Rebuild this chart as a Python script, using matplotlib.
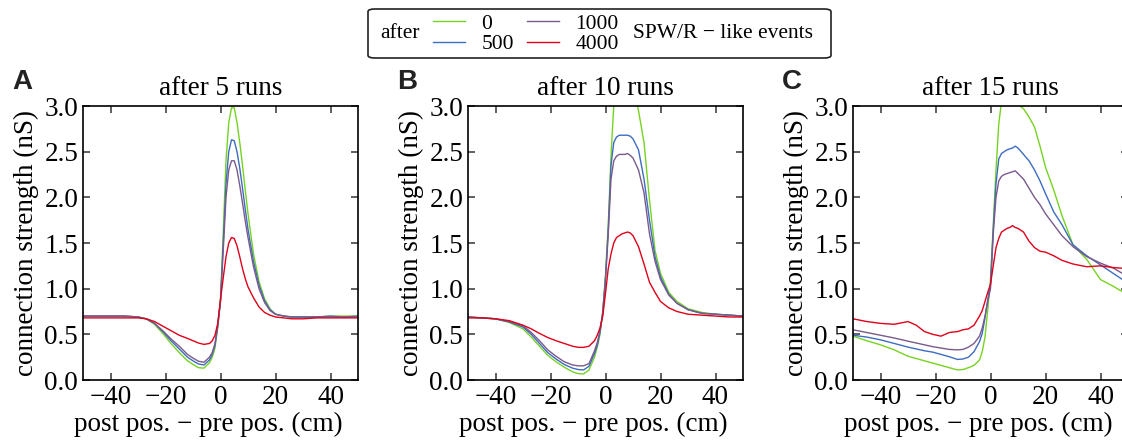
import matplotlib.pyplot as plt
from matplotlib.patches import FancyBboxPatch
from matplotlib.lines import Line2D
from matplotlib.ticker import FormatStrFormatter

plt.rcParams['font.family'] = ['Liberation Serif', 'DejaVu Serif']
plt.rcParams['font.size'] = 19.5

# sample positions (post pos. - pre pos., cm)
x = [-50, -45, -40, -35, -30, -27, -24, -21, -18, -15, -12, -10, -8, -6, -4, -3, -2, -1,
     0, 1, 2, 3, 4, 5, 6, 7, 8, 9, 10, 12, 14, 16, 18, 20, 23, 26, 30, 35, 40, 45, 50]

# after 5 runs
a0 = [0.70, 0.70, 0.70, 0.70, 0.69, 0.67, 0.61, 0.51, 0.40, 0.30, 0.21, 0.17, 0.135, 0.13, 0.19, 0.25, 0.35, 0.58,
      0.88, 1.62, 2.40, 2.82, 2.98, 2.98, 2.82, 2.60, 2.35, 2.08, 1.82, 1.38, 1.08, 0.89, 0.78, 0.72, 0.70, 0.69, 0.69, 0.69, 0.70, 0.70, 0.70]
a500 = [0.70, 0.70, 0.70, 0.70, 0.69, 0.67, 0.62, 0.53, 0.43, 0.34, 0.25, 0.21, 0.175, 0.165, 0.22, 0.28, 0.38, 0.59,
        0.87, 1.50, 2.15, 2.50, 2.63, 2.62, 2.50, 2.32, 2.10, 1.87, 1.65, 1.30, 1.04, 0.87, 0.77, 0.72, 0.70, 0.69, 0.69, 0.69, 0.70, 0.69, 0.70]
a1000 = [0.70, 0.70, 0.70, 0.70, 0.69, 0.67, 0.62, 0.54, 0.45, 0.37, 0.28, 0.24, 0.205, 0.195, 0.25, 0.30, 0.40, 0.60,
         0.86, 1.42, 2.00, 2.30, 2.40, 2.40, 2.30, 2.13, 1.94, 1.74, 1.56, 1.24, 1.00, 0.85, 0.76, 0.72, 0.70, 0.69, 0.69, 0.69, 0.69, 0.69, 0.69]
a4000 = [0.68, 0.68, 0.68, 0.68, 0.68, 0.67, 0.64, 0.59, 0.54, 0.49, 0.455, 0.43, 0.405, 0.39, 0.40, 0.43, 0.49, 0.62,
         0.88, 1.12, 1.35, 1.50, 1.56, 1.55, 1.47, 1.35, 1.22, 1.11, 1.02, 0.90, 0.80, 0.74, 0.71, 0.69, 0.68, 0.67, 0.67, 0.68, 0.68, 0.68, 0.68]

# after 10 runs
b0 = [0.69, 0.68, 0.67, 0.63, 0.56, 0.47, 0.37, 0.27, 0.20, 0.14, 0.09, 0.07, 0.066, 0.11, 0.25, 0.36, 0.50, 0.75,
      1.15, 1.70, 2.45, 3.00, 3.25, 3.30, 3.30, 3.30, 3.30, 3.30, 3.25, 2.95, 2.60, 1.97, 1.42, 1.17, 0.96, 0.86, 0.78, 0.74, 0.72, 0.71, 0.70]
b500 = [0.69, 0.68, 0.67, 0.635, 0.58, 0.50, 0.40, 0.30, 0.23, 0.17, 0.13, 0.115, 0.11, 0.15, 0.29, 0.38, 0.52, 0.74,
        1.12, 1.65, 2.35, 2.60, 2.66, 2.68, 2.68, 2.68, 2.68, 2.67, 2.64, 2.52, 2.20, 1.75, 1.35, 1.13, 0.94, 0.84, 0.77, 0.73, 0.72, 0.71, 0.70]
b1000 = [0.69, 0.68, 0.67, 0.64, 0.595, 0.52, 0.43, 0.33, 0.26, 0.20, 0.165, 0.155, 0.155, 0.18, 0.32, 0.41, 0.54, 0.73,
         1.10, 1.60, 2.20, 2.40, 2.45, 2.47, 2.47, 2.47, 2.48, 2.46, 2.43, 2.30, 2.05, 1.60, 1.30, 1.10, 0.93, 0.84, 0.77, 0.73, 0.72, 0.71, 0.70]
b4000 = [0.68, 0.68, 0.67, 0.65, 0.60, 0.56, 0.51, 0.465, 0.43, 0.40, 0.37, 0.358, 0.357, 0.37, 0.43, 0.49, 0.57, 0.70,
         0.95, 1.22, 1.38, 1.50, 1.56, 1.58, 1.60, 1.61, 1.62, 1.61, 1.58, 1.46, 1.27, 1.07, 0.96, 0.86, 0.79, 0.75, 0.72, 0.71, 0.70, 0.69, 0.69]

# after 15 runs
c0 = [0.48, 0.43, 0.385, 0.33, 0.26, 0.235, 0.21, 0.185, 0.16, 0.135, 0.11, 0.115, 0.135, 0.16, 0.22, 0.31, 0.47, 0.77,
      1.10, 1.70, 2.30, 2.80, 3.05, 3.10, 3.12, 3.12, 3.10, 3.07, 3.02, 2.97, 2.88, 2.77, 2.56, 2.33, 2.08, 1.80, 1.48, 1.32, 1.10, 1.02, 0.93]
c500 = [0.49, 0.47, 0.44, 0.40, 0.36, 0.34, 0.32, 0.305, 0.28, 0.255, 0.225, 0.23, 0.25, 0.31, 0.42, 0.51, 0.68, 0.88,
        1.05, 1.65, 2.15, 2.42, 2.48, 2.50, 2.52, 2.53, 2.54, 2.56, 2.54, 2.47, 2.40, 2.30, 2.18, 2.04, 1.84, 1.70, 1.48, 1.36, 1.26, 1.16, 1.06]
c1000 = [0.55, 0.52, 0.49, 0.46, 0.425, 0.405, 0.385, 0.365, 0.35, 0.335, 0.33, 0.335, 0.36, 0.40, 0.48, 0.57, 0.70, 0.86,
         1.00, 1.60, 2.00, 2.18, 2.23, 2.25, 2.26, 2.27, 2.28, 2.29, 2.26, 2.20, 2.10, 2.00, 1.92, 1.82, 1.70, 1.58, 1.46, 1.35, 1.28, 1.22, 1.13]
c4000 = [0.67, 0.64, 0.62, 0.61, 0.64, 0.60, 0.53, 0.50, 0.48, 0.52, 0.53, 0.55, 0.56, 0.60, 0.70, 0.76, 0.86, 0.96,
         1.05, 1.25, 1.45, 1.55, 1.62, 1.64, 1.66, 1.67, 1.69, 1.67, 1.66, 1.62, 1.52, 1.45, 1.41, 1.40, 1.36, 1.31, 1.27, 1.24, 1.25, 1.23, 1.22]

events = ["0", "500", "1000", "4000"]
colors = ["#77d321", "#3d6cc0", "#7a5a8c", "#e0001a"]
panels = [("A", "after 5 runs", [a0, a500, a1000, a4000]),
          ("B", "after 10 runs", [b0, b500, b1000, b4000]),
          ("C", "after 15 runs", [c0, c500, c1000, c4000])]

W, H = 1122, 444
fig = plt.figure(figsize=(W / 100, H / 100), dpi=100)
lefts = [83, 468, 853]

for i, (letter, title, series) in enumerate(panels):
    ax = fig.add_axes([lefts[i] / W, 64 / H, 275 / W, 274 / H])
    for ys, c in zip(series, colors):
        ax.plot(x, ys, color=c, lw=1.0)
    ax.set_xlim(-50, 50)
    ax.set_ylim(0, 3)
    ax.set_xticks([-40, -20, 0, 20, 40])
    ax.set_yticks([0, 0.5, 1.0, 1.5, 2.0, 2.5, 3.0])
    ax.yaxis.set_major_formatter(FormatStrFormatter('%.1f'))
    ax.tick_params(direction='in', top=True, right=True, length=5, width=1.2, color='#444444')
    for s in ax.spines.values():
        s.set_linewidth(1.2)
    ax.set_title(title, pad=8, fontsize=19.5)
    ax.set_xlabel("post pos. \u2212 pre pos. (cm)")
    ax.xaxis.set_label_coords(0.5 - 12 / 275, -0.115)
    ax.set_ylabel("connection strength (nS)", labelpad=4)
    fig.text((lefts[i] - 71) / W, 1 - 82 / H, letter, fontfamily='Liberation Sans',
             fontweight='bold', fontsize=20, va='center', ha='left', color='#222222')

handles = [Line2D([], [], color=c, lw=1.0) for c in colors]
fig.legend(handles, events, ncol=2, loc='center', bbox_to_anchor=(526 / W, 1 - 34 / H),
           frameon=False, fontsize=15.5, handlelength=1.5, handletextpad=0.75,
           columnspacing=0.6, labelspacing=0.0, borderpad=0)
fig.text(380 / W, 1 - 34 / H, "after", fontsize=15.5, va='center', ha='left')
fig.text(633 / W, 1 - 34 / H, "SPW/R \u2212 like events", fontsize=15.5, va='center', ha='left')
box = FancyBboxPatch((368 / W, 1 - 58 / H), 463 / W, 49 / H,
                     boxstyle='round,pad=0,rounding_size=0.006', transform=fig.transFigure,
                     fill=False, lw=1.2, edgecolor='#222222')
fig.add_artist(box)

fig.savefig("out.png", dpi=100)
